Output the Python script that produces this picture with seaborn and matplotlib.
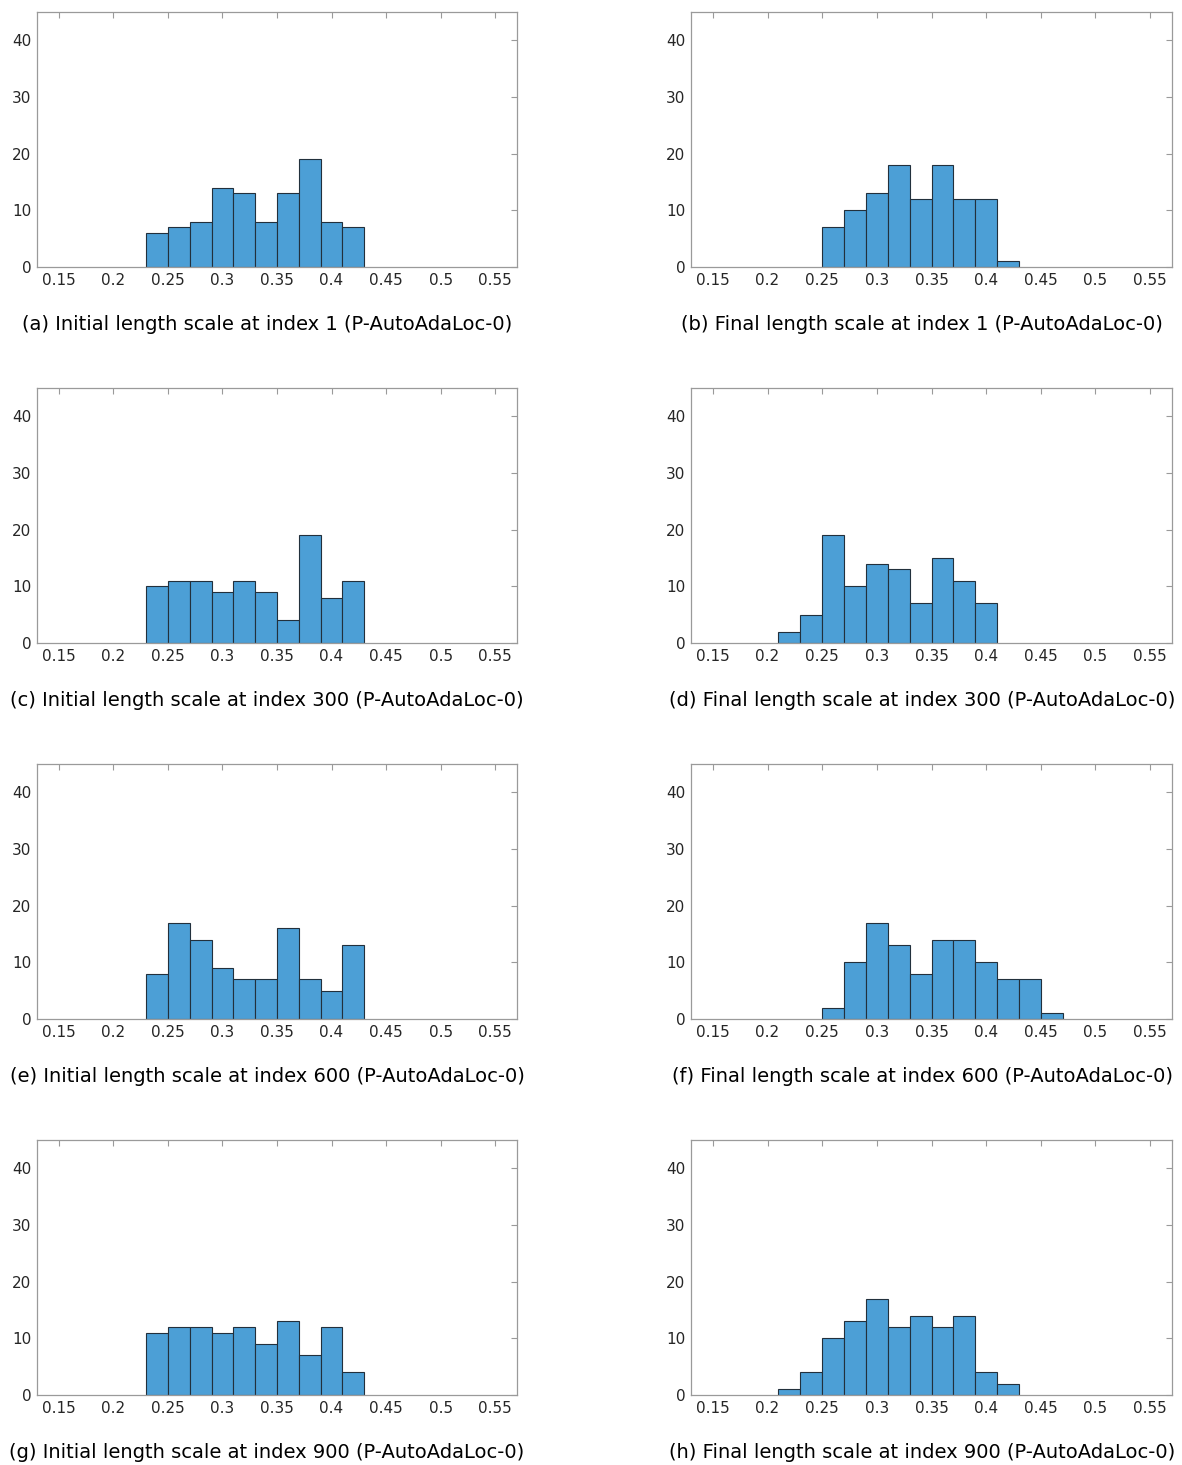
import numpy as np
import pandas as pd
import matplotlib
matplotlib.use("Agg")
import matplotlib.pyplot as plt
import seaborn as sns

# ---- data (bin counts; bin width 0.02) ----
edges_a = [0.23, 0.25, 0.27, 0.29, 0.31, 0.33, 0.35, 0.37, 0.39, 0.41, 0.43]
counts_a = [6, 7, 8, 14, 13, 8, 13, 19, 8, 7]
edges_b = [0.25, 0.27, 0.29, 0.31, 0.33, 0.35, 0.37, 0.39, 0.41, 0.43]
counts_b = [7, 10, 13, 18, 12, 18, 12, 12, 1]
edges_c = [0.23, 0.25, 0.27, 0.29, 0.31, 0.33, 0.35, 0.37, 0.39, 0.41, 0.43]
counts_c = [10, 11, 11, 9, 11, 9, 4, 19, 8, 11]
edges_d = [0.21, 0.23, 0.25, 0.27, 0.29, 0.31, 0.33, 0.35, 0.37, 0.39, 0.41]
counts_d = [2, 5, 19, 10, 14, 13, 7, 15, 11, 7]
edges_e = [0.23, 0.25, 0.27, 0.29, 0.31, 0.33, 0.35, 0.37, 0.39, 0.41, 0.43]
counts_e = [8, 17, 14, 9, 7, 7, 16, 7, 5, 13]
edges_f = [0.25, 0.27, 0.29, 0.31, 0.33, 0.35, 0.37, 0.39, 0.41, 0.43, 0.45, 0.47]
counts_f = [2, 10, 17, 13, 8, 14, 14, 10, 7, 7, 1]
edges_g = [0.23, 0.25, 0.27, 0.29, 0.31, 0.33, 0.35, 0.37, 0.39, 0.41, 0.43]
counts_g = [11, 12, 12, 11, 12, 9, 13, 7, 12, 4]
edges_h = [0.21, 0.23, 0.25, 0.27, 0.29, 0.31, 0.33, 0.35, 0.37, 0.39, 0.41, 0.43]
counts_h = [1, 4, 10, 13, 17, 12, 14, 12, 14, 4, 2]

captions = [
    "(a) Initial length scale at index 1 (P-AutoAdaLoc-0)",
    "(b) Final length scale at index 1 (P-AutoAdaLoc-0)",
    "(c) Initial length scale at index 300 (P-AutoAdaLoc-0)",
    "(d) Final length scale at index 300 (P-AutoAdaLoc-0)",
    "(e) Initial length scale at index 600 (P-AutoAdaLoc-0)",
    "(f) Final length scale at index 600 (P-AutoAdaLoc-0)",
    "(g) Initial length scale at index 900 (P-AutoAdaLoc-0)",
    "(h) Final length scale at index 900 (P-AutoAdaLoc-0)",
]
x_ticks = [0.15, 0.2, 0.25, 0.3, 0.35, 0.4, 0.45, 0.5, 0.55]
x_tick_labels = ["0.15", "0.2", "0.25", "0.3", "0.35", "0.4", "0.45", "0.5", "0.55"]
y_ticks = [0, 10, 20, 30, 40]

panels = [(edges_a, counts_a), (edges_b, counts_b), (edges_c, counts_c), (edges_d, counts_d),
          (edges_e, counts_e), (edges_f, counts_f), (edges_g, counts_g), (edges_h, counts_h)]

sns.set_style("white")
plt.rcParams['font.family'] = ['DejaVu Sans']

fig = plt.figure(figsize=(11.82, 14.65), dpi=100)
W, H = 1182, 1465
col_left = [37, 691]
col_width = [480, 481]
row_top = [12, 388, 764, 1140]
ax_h = 255
cap_x = [267, 922]
cap_y = [324, 700, 1076, 1452]

bar_color = "#4C9FD6"
spine_color = "#9a9a9a"
text_color = "#262626"

for i, (edges, counts) in enumerate(panels):
    r, c = divmod(i, 2)
    left = col_left[c] / W
    bottom = 1 - (row_top[r] + ax_h) / H
    ax = fig.add_axes([left, bottom, col_width[c] / W, ax_h / H])
    e = np.array(edges)
    df = pd.DataFrame({"x": (e[:-1] + e[1:]) / 2, "w": counts})
    sns.histplot(data=df, x="x", weights="w", bins=list(edges), ax=ax,
                 color=bar_color, alpha=1.0, edgecolor="#22303c", linewidth=0.8)
    ax.set_xlim(0.13, 0.57)
    ax.set_ylim(0, 45)
    ax.set_xticks(x_ticks)
    ax.set_xticklabels(x_tick_labels)
    ax.set_yticks(y_ticks)
    ax.set_xlabel("")
    ax.set_ylabel("")
    for s in ax.spines.values():
        s.set_visible(True)
        s.set_color(spine_color)
        s.set_linewidth(0.9)
    ax.tick_params(direction="in", length=4, width=0.8, color=spine_color,
                   top=True, right=True, labelsize=11, labelcolor=text_color, pad=4)
    fig.text(cap_x[c] / W, 1 - cap_y[r] / H, captions[i], ha="center", va="center",
             fontsize=14, color="black")

fig.savefig("out.png", dpi=100)
